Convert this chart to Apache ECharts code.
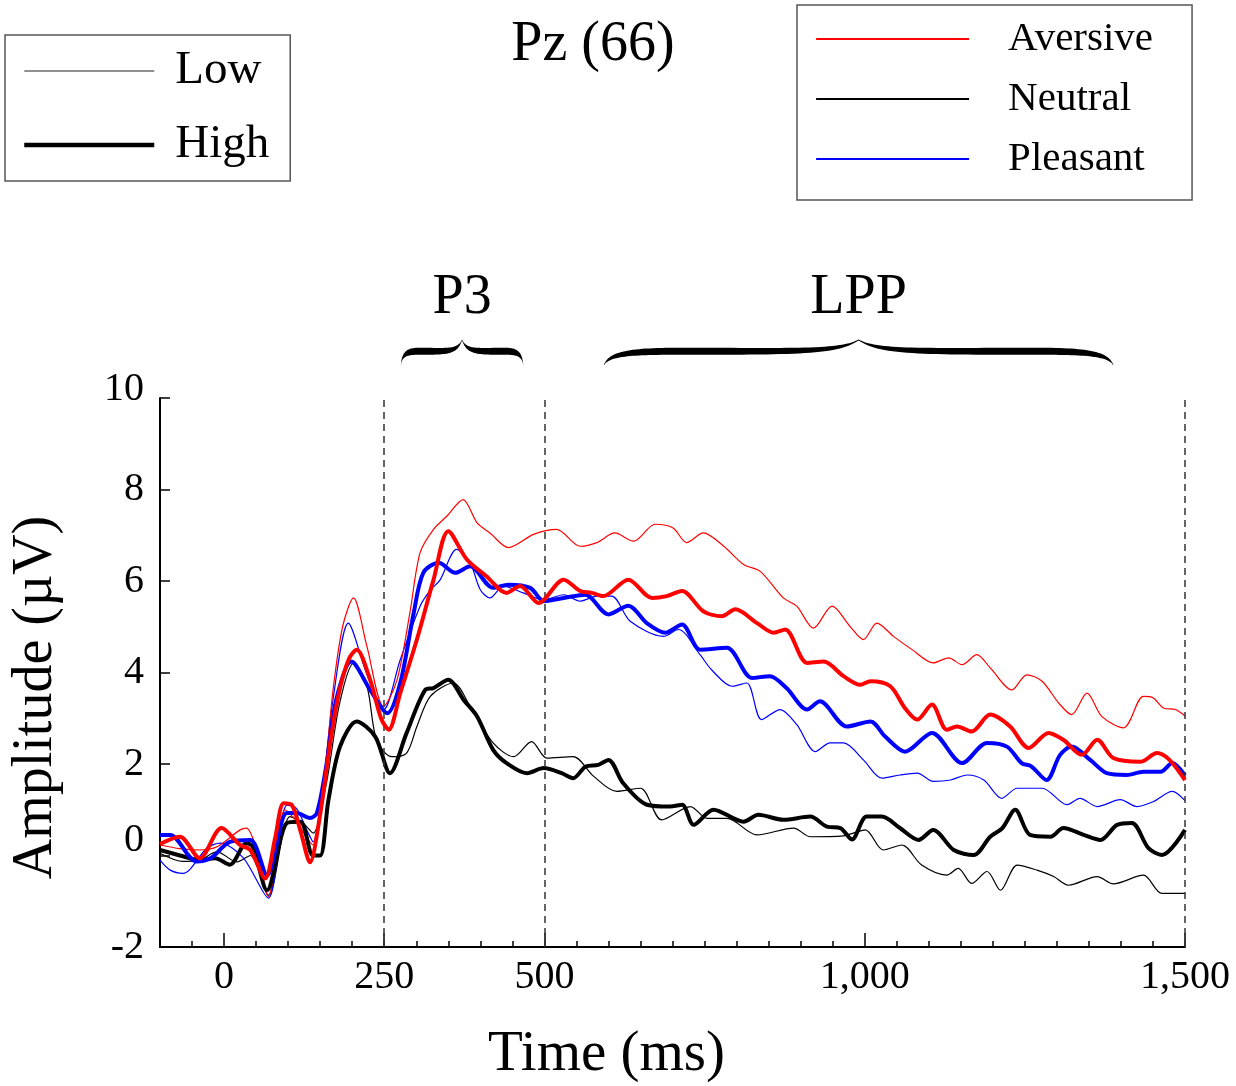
<!DOCTYPE html>
<html><head><meta charset="utf-8">
<script src="https://cdn.jsdelivr.net/npm/echarts@6/dist/echarts.min.js"></script>
<style>html,body{margin:0;padding:0;background:#fff}#chart{width:1236px;height:1086px}</style>
</head><body><div id="chart"></div>
<script>
const FONT = '"Liberation Serif", "Times New Roman", serif';

// [time (ms), amplitude (µV)]
const aversiveHigh = [[-100,0.25],[-69,0.41],[-38,-0.06],[-4,0.6],[25,0.23],[41,0.12],[64,-0.5],[80,0.4],[93,1.14],[106,1.1],[120,0.5],[134,-0.15],[150,0.9],[165,2.4],[180,3.6],[195,4.3],[207,4.5],[228,3.84],[245,3.0],[257,2.75],[275,3.55],[301,4.72],[327,6.03],[350,7.09],[379,6.47],[410,6.1],[441,5.74],[462,5.89],[491,5.52],[530,6.03],[556,5.78],[574,5.74],[592,5.67],[631,6.03],[668,5.63],[691,5.67],[715,5.78],[748,5.34],[777,5.23],[798,5.38],[832,5.08],[858,4.87],[876,4.94],[910,4.21],[936,4.24],[967,3.92],[993,3.73],[1009,3.81],[1040,3.7],[1063,3.22],[1082,2.97],[1105,3.3],[1128,2.75],[1144,2.82],[1167,2.71],[1196,3.08],[1227,2.82],[1256,2.35],[1287,2.68],[1310,2.53],[1339,2.2],[1363,2.53],[1388,2.13],[1431,2.05],[1456,2.24],[1475,2.1],[1500,1.65]];
const aversiveLow = [[-100,0.23],[-69,0.15],[-38,0.12],[-11,0.19],[25,0.56],[35,0.6],[51,0.12],[69,-0.9],[95,1.0],[110,0.8],[139,0.23],[155,1.5],[170,3.6],[185,5.0],[202,5.63],[223,4.57],[249,3.26],[270,3.84],[290,5.3],[306,6.62],[327,7.13],[348,7.42],[373,7.78],[395,7.27],[415,7.05],[444,6.73],[483,7.02],[519,7.13],[556,6.76],[582,6.84],[610,7.05],[639,6.87],[673,7.24],[701,7.16],[722,6.84],[748,7.05],[780,6.76],[811,6.36],[837,6.21],[873,5.63],[894,5.45],[920,4.97],[949,5.45],[977,5.01],[998,4.72],[1019,5.08],[1045,4.79],[1074,4.5],[1107,4.21],[1131,4.32],[1152,4.17],[1175,4.39],[1196,4.1],[1230,3.62],[1253,3.95],[1277,3.81],[1303,3.33],[1323,3.08],[1347,3.55],[1370,3.04],[1404,2.79],[1435,3.48],[1450,3.45],[1467,3.22],[1485,3.19],[1500,3.05]];
const neutralHigh = [[-100,0.12],[-69,0],[-38,-0.1],[-14,-0.06],[9,-0.2],[35,0.27],[45,0.19],[67,-0.76],[98,0.71],[119,0.74],[139,0],[150,0],[163,1.22],[181,2.38],[207,2.93],[236,2.6],[259,1.8],[285,2.68],[314,3.62],[327,3.66],[350,3.84],[374,3.4],[395,3.04],[420,2.31],[441,2.02],[473,1.8],[499,1.91],[527,1.8],[545,1.69],[564,1.94],[584,1.98],[600,2.09],[623,1.58],[660,1.11],[696,1.07],[715,1.11],[733,0.67],[764,1.0],[811,0.74],[834,0.89],[873,0.78],[915,0.85],[941,0.63],[962,0.6],[980,0.35],[1003,0.85],[1027,0.85],[1055,0.6],[1084,0.34],[1107,0.56],[1139,0.12],[1170,0.01],[1196,0.41],[1215,0.6],[1235,1.0],[1258,0.45],[1290,0.41],[1310,0.6],[1342,0.45],[1368,0.34],[1394,0.67],[1417,0.71],[1443,0.16],[1464,0.01],[1500,0.56]];
const neutralLow = [[-100,0.05],[-64,-0.13],[-38,-0.1],[-11,0.08],[20,-0.14],[41,0],[69,-0.87],[103,0.85],[123,0.71],[139,0.49],[160,1.6],[180,3.3],[202,4.2],[223,3.7],[238,2.53],[262,2.16],[285,2.24],[301,2.82],[322,3.48],[358,3.77],[384,3.26],[420,2.46],[452,2.16],[480,2.49],[504,2.13],[545,2.16],[577,1.73],[613,1.4],[650,1.47],[683,0.78],[728,1.07],[754,0.81],[785,0.81],[832,0.45],[889,0.6],[915,0.41],[967,0.43],[982,0.49],[1001,0.56],[1029,0.12],[1058,0.23],[1089,-0.21],[1128,-0.43],[1146,-0.28],[1167,-0.61],[1191,-0.35],[1212,-0.76],[1238,-0.21],[1269,-0.32],[1295,-0.46],[1318,-0.65],[1363,-0.46],[1388,-0.62],[1435,-0.43],[1464,-0.83],[1500,-0.83]];
const pleasantHigh = [[-100,0.45],[-84,0.45],[-43,-0.13],[-20,-0.05],[9,0.3],[41,0.34],[67,-0.43],[98,0.93],[113,0.93],[134,0.82],[145,0.93],[160,2.0],[175,3.4],[199,4.24],[228,3.62],[255,3.11],[275,3.77],[296,5.3],[311,6.18],[335,6.4],[361,6.18],[384,6.32],[420,5.85],[444,5.92],[478,5.85],[499,5.56],[530,5.63],[564,5.7],[600,5.27],[631,5.46],[660,5.08],[689,4.87],[715,5.05],[743,4.5],[785,4.54],[824,3.88],[852,3.92],[878,3.66],[910,3.19],[930,3.37],[972,2.82],[1009,2.93],[1032,2.6],[1063,2.27],[1105,2.68],[1152,2.02],[1191,2.46],[1222,2.38],[1245,2.02],[1260,1.95],[1284,1.65],[1305,2.2],[1323,2.38],[1352,2.09],[1378,1.8],[1409,1.76],[1435,1.83],[1462,1.83],[1480,2.02],[1500,1.75]];
const pleasantLow = [[-100,-0.1],[-84,-0.32],[-64,-0.39],[-27,0.16],[-6,0.27],[30,-0.05],[69,-0.93],[98,1.1],[113,1.03],[129,0.56],[139,0.3],[155,1.6],[170,3.4],[194,5.08],[222,4.0],[249,3.19],[275,4.28],[306,5.45],[322,5.8],[337,6.02],[363,6.69],[384,6.4],[400,5.81],[415,5.63],[436,5.89],[467,5.74],[499,5.59],[530,5.7],[556,5.56],[582,5.67],[605,5.67],[634,5.12],[686,4.79],[709,4.94],[743,4.39],[761,4.06],[793,3.7],[816,3.77],[839,2.97],[868,3.19],[894,2.86],[923,2.27],[946,2.46],[967,2.46],[998,2.09],[1027,1.69],[1055,1.76],[1082,1.8],[1107,1.62],[1134,1.65],[1160,1.76],[1186,1.65],[1214,1.25],[1238,1.47],[1277,1.47],[1316,1.11],[1336,1.25],[1363,1.07],[1399,1.22],[1425,1.07],[1451,1.18],[1480,1.4],[1500,1.2]];

const xLabelTicks = [0, 250, 500, 1000, 1500];
const windowLines = [250, 500, 1500];
const components = [{label: 'P3', from: 276, to: 467}, {label: 'LPP', from: 593, to: 1388}];
const conditionNames = ['Aversive', 'Neutral', 'Pleasant'];
const levelNames = ['Low', 'High'];

const chart = echarts.init(document.getElementById('chart'));

function wave(name, data, color, width, z) {
  return {type: 'line', name, data, symbol: 'none', showSymbol: false, smooth: 0.3,
    lineStyle: {color, width}, itemStyle: {color}, z, silent: true, animation: false};
}
function dummy(name, color, width) {
  return {type: 'line', name, data: [], symbol: 'none', lineStyle: {color, width}, itemStyle: {color}};
}
const fmt = v => String(v).replace(/\B(?=(\d{3})+(?!\d))/g, ',');

const series = [
  wave('Neutral Low', neutralLow, '#000', 1.2, 3),
  wave('Pleasant Low', pleasantLow, '#0000ff', 1.2, 3),
  wave('Aversive Low', aversiveLow, '#ff0000', 1.2, 3),
  wave('Neutral High', neutralHigh, '#000', 4, 4),
  wave('Pleasant High', pleasantHigh, '#0000ff', 4, 4),
  wave('Aversive High', aversiveHigh, '#ff0000', 4, 5),
  dummy(levelNames[0], '#222', 1.2),
  dummy(levelNames[1], '#000', 4.5),
  dummy(conditionNames[0], '#ff0000', 2.2),
  dummy(conditionNames[1], '#000', 2.2),
  dummy(conditionNames[2], '#0000ff', 2.2)
];
series[0].markLine = {
  symbol: 'none', silent: true, animation: false,
  label: {show: false},
  lineStyle: {type: [7, 5], color: '#333', width: 1.5},
  data: windowLines.map(v => ({xAxis: v}))
};

const option = {
  animation: false,
  backgroundColor: '#fff',
  title: {text: 'Pz (66)', left: 588, textAlign: 'center', top: 12,
    textStyle: {fontFamily: FONT, fontSize: 56, fontWeight: 'normal', color: '#000'}},
  legend: [
    {data: [{name: levelNames[0], lineStyle: {width: 1.2, color: '#222'}},
            {name: levelNames[1], lineStyle: {width: 4.5, color: '#000'}}],
      orient: 'vertical', left: 5, top: 35, itemWidth: 130, itemHeight: 14, itemGap: 24,
      itemStyle: {opacity: 0},
      selectedMode: false, borderColor: '#555', borderWidth: 1.5, padding: [11, 21, 11, 17],
      textStyle: {fontFamily: FONT, fontSize: 47, color: '#000', lineHeight: 50, padding: [0, 0, 0, 16]}},
    {data: conditionNames.map((n, i) => ({name: n, lineStyle: {width: 2.2, color: ['#ff0000', '#000', '#0000ff'][i]}})),
      orient: 'vertical', left: 797, top: 5, itemWidth: 153, itemHeight: 14, itemGap: 6,
      itemStyle: {opacity: 0},
      selectedMode: false, borderColor: '#555', borderWidth: 1.5, padding: [7, 39, 14, 18],
      textStyle: {fontFamily: FONT, fontSize: 41, color: '#000', lineHeight: 44, padding: [0, 0, 10, 34]}}
  ],
  grid: {left: 160, right: 51, top: 398, bottom: 139, containLabel: false, outerBoundsMode: 'none'},
  xAxis: [
    {type: 'value', min: -100, max: 1500, interval: 50,
      name: 'Time (ms)', nameLocation: 'middle', nameGap: 80,
      nameTextStyle: {fontFamily: FONT, fontSize: 57, color: '#000', padding: [0, 132, 0, 0]},
      axisLine: {show: true, onZero: false, lineStyle: {color: '#000', width: 2}},
      axisTick: {show: true, inside: true, length: 6, lineStyle: {color: '#000', width: 1.5}},
      axisLabel: {show: false}, splitLine: {show: false}},
    {type: 'value', min: -100, max: 1500, position: 'bottom', offset: 0,
      axisLine: {show: false, onZero: false},
      axisTick: {show: true, inside: true, length: 14, customValues: xLabelTicks, lineStyle: {color: '#000', width: 1.5}},
      axisLabel: {show: true, customValues: xLabelTicks, formatter: fmt, margin: 10,
        fontFamily: FONT, fontSize: 40, color: '#000'},
      splitLine: {show: false}}
  ],
  yAxis: {type: 'value', min: -2, max: 10, interval: 2,
    name: 'Amplitude (µV)', nameLocation: 'middle', nameGap: 96, nameRotate: 90,
    nameTextStyle: {fontFamily: FONT, fontSize: 56, color: '#000', padding: [0, 50, 0, 0]},
    axisLine: {show: true, onZero: false, lineStyle: {color: '#000', width: 2}},
    axisTick: {show: true, inside: true, length: 10, lineStyle: {color: '#000', width: 1.5}},
    axisLabel: {margin: 16, fontFamily: FONT, fontSize: 40, color: '#000',
      formatter: v => (v === 0 ? '{z|0}' : v === 10 ? '{t|10}' : String(v)),
      rich: {z: {fontFamily: FONT, fontSize: 40, color: '#000', padding: [0, 0, 30, 0]},
             t: {fontFamily: FONT, fontSize: 40, color: '#000', padding: [0, 0, 18, 0]}}},
    splitLine: {show: false}},
  series
};
chart.setOption(option);

// Curly braces + labels above the plot, positioned from the axis scale
function bracePoints(x0, x1, yb, yt, T) {
  const xm = (x0 + x1) / 2, half = (x1 - x0) / 2, h = yb - yt, yBody = yb - 0.55 * h;
  const segs = [
    [[x0, yb], [x0 + 0.02 * half, yb - 0.45 * h], [x0 + 0.1 * half, yBody], [x0 + 0.3 * half, yBody]],
    [[x0 + 0.3 * half, yBody], [x0 + 0.75 * half, yBody], [xm - 0.08 * half, yBody + 0.05 * h], [xm, yt]]
  ];
  const pts = [];
  const N = 30;
  segs.forEach((s, si) => {
    for (let i = (si === 0 ? 0 : 1); i <= N; i++) {
      const u = i / N, a = (1 - u) ** 3, b = 3 * (1 - u) ** 2 * u, c = 3 * (1 - u) * u * u, d = u ** 3;
      pts.push([a * s[0][0] + b * s[1][0] + c * s[2][0] + d * s[3][0],
                a * s[0][1] + b * s[1][1] + c * s[2][1] + d * s[3][1]]);
    }
  });
  const M = pts.length - 1;
  const thick = pts.map((p, i) => Math.max(1.2, T * Math.pow(Math.sin(Math.PI * i / M), 0.7)));
  const left = pts.map((p, i) => ({x: p[0], y: p[1], t: thick[i]}));
  const right = left.slice(0, -1).reverse().map(p => ({x: 2 * xm - p.x, y: p.y, t: p.t}));
  const all = left.concat(right);
  const top = all.map(p => [p.x, p.y - p.t / 2]);
  const bottom = all.slice().reverse().map(p => [p.x, p.y + p.t / 2]);
  return top.concat(bottom);
}
const gridTop = chart.convertToPixel({xAxisIndex: 0, yAxisIndex: 0}, [0, 10])[1];
const graphics = [];
components.forEach(c => {
  const x0 = chart.convertToPixel({xAxisIndex: 0}, c.from);
  const x1 = chart.convertToPixel({xAxisIndex: 0}, c.to);
  const yb = gridTop - 33, yt = gridTop - 58;
  graphics.push({type: 'polygon', shape: {points: bracePoints(x0, x1, yb, yt, 7)},
    style: {fill: '#000'}, silent: true});
  graphics.push({type: 'text', x: (x0 + x1) / 2, y: gridTop - 100,
    style: {text: c.label, font: '56px ' + FONT, fill: '#000', align: 'center', verticalAlign: 'middle',
      textAlign: 'center', textVerticalAlign: 'middle'}, silent: true});
});
chart.setOption({graphic: graphics});
</script></body></html>
